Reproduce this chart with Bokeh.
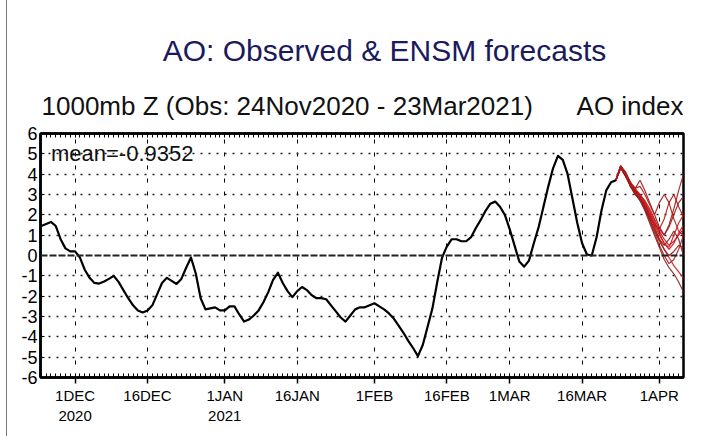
import pandas as pd
from bokeh.plotting import figure
from bokeh.layouts import column
from bokeh.models import FixedTicker, DatetimeAxis, Label, Span, Range1d
from bokeh.embed import file_html
from bokeh.resources import INLINE

# ---------------- data ----------------
obs_start = "2020-11-24"
obs_values = [
    1.45, 1.55, 1.65, 1.45, 0.80, 0.35, 0.20, 0.20, -0.10, -0.70,
    -1.10, -1.35, -1.38, -1.28, -1.15, -1.00, -1.30, -1.70, -2.10, -2.45,
    -2.70, -2.80, -2.70, -2.45, -1.90, -1.35, -1.10, -1.25, -1.40, -1.15,
    -0.60, -0.10, -0.90, -2.10, -2.65, -2.60, -2.55, -2.70, -2.70, -2.50,
    -2.50, -2.90, -3.25, -3.15, -2.95, -2.70, -2.30, -1.80, -1.20, -0.85,
    -1.35, -1.75, -2.05, -1.75, -1.55, -1.70, -1.95, -2.10, -2.10, -2.15,
    -2.45, -2.75, -3.05, -3.25, -2.95, -2.65, -2.55, -2.55, -2.45, -2.35,
    -2.50, -2.65, -2.85, -3.10, -3.45, -3.80, -4.20, -4.55, -4.95, -4.40,
    -3.50, -2.60, -1.30, -0.10, 0.45, 0.80, 0.80, 0.70, 0.70, 0.90,
    1.35, 1.75, 2.20, 2.55, 2.65, 2.40, 2.00, 1.30, 0.50, -0.30,
    -0.55, -0.25, 0.60, 1.40, 2.40, 3.40, 4.30, 4.90, 4.70, 4.00,
    2.80, 1.60, 0.60, 0.05, 0.00, 0.90, 2.20, 3.20, 3.60, 3.70,
]

fc_start = "2021-03-23"
fc_members = [
    [3.7, 4.4, 4.0, 3.5, 3.2, 3.0, 2.6, 2.1, 1.6, 1.2, 0.8, 0.5, 0.7, 1.0, 1.3],
    [3.7, 4.4, 4.1, 3.6, 3.3, 3.7, 3.2, 2.6, 2.0, 1.4, 1.0, 1.4, 2.0, 2.6, 2.9],
    [3.7, 4.3, 3.9, 3.4, 3.0, 2.8, 2.4, 1.9, 1.5, 1.3, 1.8, 2.6, 3.0, 2.4, 1.9],
    [3.7, 4.4, 4.0, 3.4, 3.1, 2.7, 2.2, 1.6, 1.0, 0.4, -0.2, -0.6, -0.9, -1.3, -1.8],
    [3.7, 4.3, 3.9, 3.5, 3.2, 2.9, 2.5, 2.0, 1.4, 0.8, 0.3, -0.1, -0.5, -0.8, -1.1],
    [3.7, 4.4, 4.0, 3.6, 3.2, 3.0, 2.7, 2.3, 1.8, 1.3, 1.0, 1.5, 2.3, 3.2, 4.0],
    [3.7, 4.3, 3.9, 3.5, 3.1, 2.8, 2.5, 2.0, 1.5, 1.0, 0.6, 0.3, 0.6, 1.1, 1.5],
    [3.7, 4.4, 4.1, 3.6, 3.2, 2.9, 2.4, 1.8, 1.2, 0.7, 0.3, 0.0, 0.2, 0.5, 0.4],
    [3.7, 4.4, 4.0, 3.5, 3.3, 3.4, 3.0, 2.5, 2.0, 2.6, 3.0, 2.6, 1.8, 1.2, 1.0],
    [3.7, 4.3, 3.9, 3.4, 3.0, 2.7, 2.3, 1.8, 1.3, 0.8, 0.5, 0.8, 1.2, 0.8, 0.0],
    [3.7, 4.4, 4.0, 3.6, 3.3, 3.0, 2.6, 2.2, 1.7, 1.1, 0.6, 0.4, 1.0, 1.6, 2.0],
    [3.7, 4.4, 4.0, 3.5, 3.1, 2.8, 2.3, 1.7, 1.1, 0.5, 0.0, -0.4, -0.2, 0.3, 1.0],
]

tick_dates = ["2020-12-01", "2020-12-16", "2021-01-01", "2021-01-16", "2021-02-01",
              "2021-02-16", "2021-03-01", "2021-03-16", "2021-04-01"]
tick_labels = ["1DEC\n2020", "16DEC", "1JAN\n2021", "16JAN", "1FEB",
               "16FEB", "1MAR", "16MAR", "1APR"]
y_ticks = [-6, -5, -4, -3, -2, -1, 0, 1, 2, 3, 4, 5, 6]
y_labels = ["-6", "-5", "-4", "-3", "-2", "-1", "0", "1", "2", "3", "4", "5", "6"]

title_text = "AO: Observed & ENSM forecasts"
subtitle_text = "1000mb Z (Obs: 24Nov2020 - 23Mar2021)"
index_text = "AO index"
mean_text = "mean=-0.9352"

# ---------------- helpers ----------------
def ms(d):
    return float(pd.Timestamp(d).value // 10**6)

obs_dates = pd.date_range(obs_start, periods=len(obs_values), freq="D")
fc_dates = pd.date_range(fc_start, periods=len(fc_members[0]), freq="D")

x_start = ms("2020-11-23 20:00")
x_end = ms("2021-04-06")
major_ms = [ms(d) for d in tick_dates]
minor_ms = [ms(d) for d in pd.date_range("2020-11-24", "2021-04-06", freq="D")]

FONT = "Liberation Sans"
EDGE = {"margin-left": "6px", "border-left": "1px solid #777777"}

# ---------------- header (titles) ----------------
# header frame is aligned with the chart frame (page x 40..683)
HEAD_H = 120
header = figure(width=700, height=HEAD_H, output_backend="svg", toolbar_location=None,
                x_range=Range1d(40, 683), y_range=Range1d(HEAD_H, 0),
                x_axis_location=None, y_axis_location=None,
                min_border_left=33, min_border_right=24,
                min_border_top=0, min_border_bottom=0,
                outline_line_color=None, background_fill_color="white",
                border_fill_color="white")
header.grid.visible = False
header.styles = EDGE
header.add_layout(Label(x=384, y=50, text=title_text, text_align="center",
                        text_baseline="middle", text_font=FONT,
                        text_font_size="30px", text_color="#1a1a5c"))
header.add_layout(Label(x=41, y=105, text=subtitle_text, text_align="left",
                        text_baseline="middle", text_font=FONT,
                        text_font_size="26px", text_color="#111111"))
header.add_layout(Label(x=683, y=105, text=index_text, text_align="right",
                        text_baseline="middle", text_font=FONT,
                        text_font_size="26px", text_color="#111111"))

# ---------------- main chart ----------------
p = figure(width=700, height=436 - HEAD_H, output_backend="svg", toolbar_location=None,
           x_axis_type="datetime",
           x_range=Range1d(x_start, x_end), y_range=Range1d(-6, 6),
           min_border_left=33, min_border_right=24,
           min_border_top=13, min_border_bottom=59,
           background_fill_color="white", border_fill_color="white")
p.styles = EDGE

p.outline_line_color = "black"
p.outline_line_width = 2.5

# x axis (bottom)
p.xaxis.ticker = FixedTicker(ticks=major_ms, minor_ticks=minor_ms)
p.xaxis.major_label_overrides = {t: lab for t, lab in zip(major_ms, tick_labels)}
p.xaxis.major_label_text_font = FONT
p.xaxis.major_label_text_font_size = "15px"
p.xaxis.major_label_text_color = "black"
p.xaxis.major_label_standoff = 3
p.xaxis.major_tick_in = 0
p.xaxis.major_tick_out = 6
p.xaxis.major_tick_line_width = 1.5
p.xaxis.minor_tick_in = 4
p.xaxis.minor_tick_out = 0
p.xaxis.axis_line_width = 2.5

# top comb axis (daily minor ticks only)
top = DatetimeAxis(ticker=FixedTicker(ticks=[], minor_ticks=minor_ms),
                   major_tick_in=0, major_tick_out=0,
                   minor_tick_in=4, minor_tick_out=0, axis_line_width=2.5,
                   major_label_standoff=0)
p.add_layout(top, "above")

# y axis
p.yaxis.ticker = FixedTicker(ticks=y_ticks)
p.yaxis.major_label_overrides = {t: lab for t, lab in zip(y_ticks, y_labels)}
p.yaxis.major_label_text_font = FONT
p.yaxis.major_label_text_font_size = "18px"
p.yaxis.major_label_text_color = "black"
p.yaxis.major_label_standoff = 3
p.yaxis.major_tick_in = 4
p.yaxis.major_tick_out = 0
p.yaxis.minor_tick_line_color = None
p.yaxis.axis_line_width = 2.5

# grids
p.xgrid.grid_line_color = "black"
p.xgrid.grid_line_dash = "4 9"
p.xgrid.grid_line_width = 1
p.ygrid.ticker = FixedTicker(ticks=[v for v in y_ticks if v not in (-6, 0, 6)])
p.ygrid.grid_line_color = "#222222"
p.ygrid.grid_line_dash = "2 6"
p.ygrid.grid_line_width = 1.3

p.add_layout(Span(location=0, dimension="width", line_color="#222222",
                  line_width=2, line_dash="7 2"))

# forecasts
fc_colors = ["#c8101e", "#9c1a1a", "#b41414", "#8a2020", "#d01818", "#a51c1c"]
for i, m in enumerate(fc_members):
    p.line(fc_dates, m, line_color=fc_colors[i % len(fc_colors)],
           line_width=1.2, line_alpha=0.9)

# observed
p.line(obs_dates, obs_values, line_color="black", line_width=2.2, line_join="round")

p.add_layout(Label(x=ms("2020-11-26"), y=5, text=mean_text,
                   text_align="left", text_baseline="middle",
                   text_font=FONT, text_font_size="22px", text_color="#111111"))

layout = column(header, p, spacing=0)
open("out.html", "w").write(file_html(layout, INLINE))
